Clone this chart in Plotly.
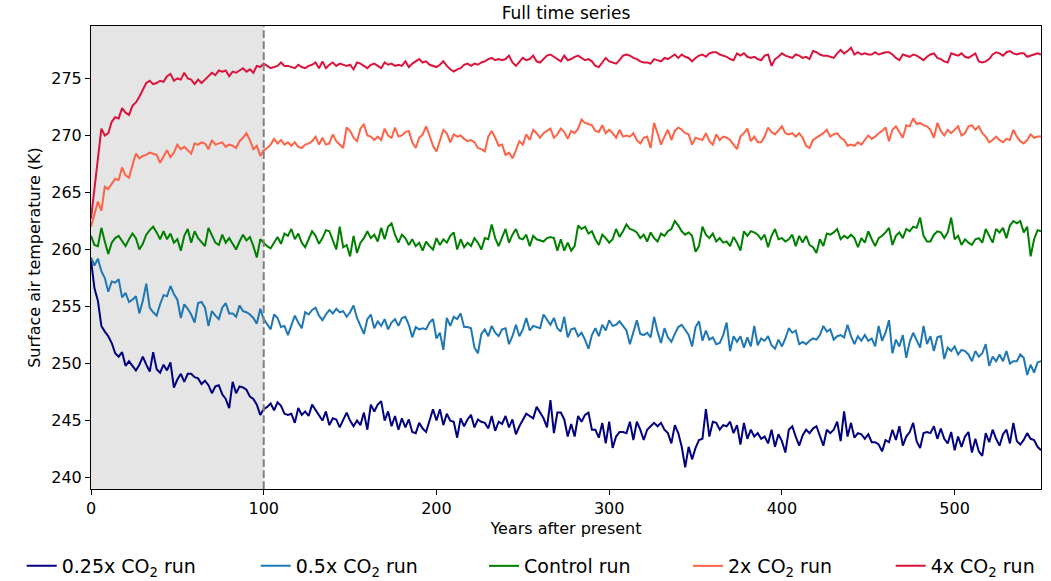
import plotly.graph_objects as go

# ---------------- data ----------------
years = list(range(0, 551, 2))

temp_025x = [
    259.1, 256.6, 255.5, 253.3, 252.8, 252.4, 251.8, 250.9, 250.6, 251.0,
    249.8, 250.2, 249.8, 249.4, 249.9, 250.6, 249.9, 249.3, 251.0, 249.5,
    249.2, 249.9, 249.4, 250.1, 247.9, 248.6, 249.1, 248.4, 249.1, 249.1,
    248.8, 248.7, 248.2, 248.5, 248.1, 247.4, 248.0, 248.1, 247.3, 246.9,
    246.1, 248.4, 247.4, 248.0, 247.9, 247.7, 247.1, 246.9, 246.4, 245.5,
    246.0, 246.2, 246.5, 245.9, 246.6, 246.3, 245.6, 245.5, 245.6, 244.8,
    246.1, 245.5, 245.8, 245.4, 246.4, 245.9, 245.4, 245.0, 245.8, 244.6,
    245.2, 245.1, 244.4, 245.0, 245.7, 245.0, 244.5, 245.0, 244.6, 245.7,
    244.2, 246.4, 245.8, 246.4, 246.7, 245.0, 245.8, 244.5, 245.4, 244.2,
    245.2, 244.4, 245.1, 244.0, 243.9, 244.8, 244.3, 244.0, 245.0, 246.0,
    245.0, 246.0, 244.6, 245.6, 245.0, 244.9, 243.5, 245.2, 244.5, 245.1,
    245.5, 244.4, 245.1, 244.9, 244.8, 244.3, 245.4, 244.1, 244.9, 244.7,
    245.4, 244.4, 245.1, 243.8, 244.5, 245.0, 245.6, 245.4, 245.2, 246.2,
    245.7, 245.2, 244.4, 246.8, 243.9, 245.7, 245.7, 245.1, 243.6, 244.7,
    243.6, 245.4, 244.9, 245.5, 245.7, 244.2, 244.2, 243.5, 244.8, 243.0,
    244.9, 242.6, 243.6, 244.0, 244.0, 243.9, 244.9, 243.3, 244.9, 244.2,
    243.3, 244.2, 244.5, 244.8, 244.5, 244.8, 244.2, 243.9, 243.0, 244.6,
    243.9, 242.7, 240.9, 242.7, 241.6, 242.6, 243.3, 243.4, 246.0, 243.6,
    244.9, 244.8, 244.2, 244.6, 244.5, 244.9, 243.9, 244.6, 242.9, 244.8,
    243.4, 244.2, 243.6, 243.9, 243.4, 243.6, 243.0, 244.2, 242.7, 243.8,
    243.2, 242.2, 244.2, 244.5, 243.6, 242.8, 243.7, 244.2, 243.9, 244.3,
    244.5, 243.7, 242.8, 244.2, 243.9, 244.2, 244.9, 243.2, 245.8, 243.6,
    244.8, 243.5, 243.9, 243.8, 243.4, 243.8, 243.1, 243.1, 242.9, 242.3,
    243.3, 243.1, 244.2, 243.3, 244.5, 242.8, 243.6, 244.0, 244.8, 243.2,
    242.6, 243.9, 244.0, 243.9, 244.5, 243.4, 244.3, 243.4, 243.0, 244.0,
    242.4, 243.6, 242.7, 243.6, 244.0, 242.2, 243.4, 242.3, 241.9, 243.9,
    243.1, 244.2, 243.4, 242.8, 243.8, 244.2, 243.0, 244.8, 243.2, 242.9,
    243.3, 243.9, 243.4, 243.3, 242.7, 242.4,
]

temp_05x = [
    259.3, 258.6, 259.2, 258.1, 257.5, 256.3, 257.2, 257.1, 257.4, 255.8,
    256.2, 255.4, 255.6, 255.9, 254.4, 255.5, 257.0, 254.9, 254.5, 254.2,
    255.2, 256.0, 255.9, 256.8, 256.1, 255.6, 254.0, 255.2, 254.8, 254.3,
    253.6, 255.3, 255.4, 254.9, 253.3, 254.6, 254.2, 253.9, 254.9, 255.3,
    254.4, 254.4, 254.1, 255.1, 254.6, 254.5, 254.3, 254.0, 253.5, 254.8,
    253.9, 253.5, 253.0, 254.3, 254.0, 253.2, 253.3, 252.5, 253.4, 254.2,
    253.6, 253.1, 254.5, 254.3, 254.7, 254.9, 254.2, 253.8, 254.3, 254.7,
    254.4, 254.8, 254.5, 254.6, 254.1, 254.5, 255.1, 254.0, 253.3, 252.6,
    253.9, 254.3, 253.1, 253.7, 253.3, 253.9, 253.0, 253.6, 253.9, 253.3,
    254.0, 254.1, 253.4, 252.3, 253.2, 253.0, 253.1, 253.0, 253.6, 253.9,
    252.2, 252.7, 251.2, 254.0, 253.3, 254.1, 253.9, 254.4, 253.2, 253.2,
    253.1, 251.4, 250.9, 252.6, 253.0, 252.4, 253.3, 252.7, 252.4, 253.0,
    253.1, 251.7, 252.4, 253.4, 252.4, 253.0, 254.0, 252.9, 253.3, 253.2,
    253.1, 254.3, 253.9, 253.4, 254.0, 253.1, 252.8, 254.1, 252.3, 253.0,
    253.1, 252.4, 252.7, 252.1, 251.3, 252.5, 253.1, 252.4, 253.4, 252.9,
    253.8, 253.3, 253.4, 253.7, 253.3, 252.9, 251.7, 252.8, 253.8, 252.6,
    252.5, 252.7, 252.3, 254.1, 252.8, 251.8, 253.1, 252.3, 251.9, 252.6,
    253.2, 253.4, 252.9, 252.5, 251.5, 253.2, 253.7, 252.0, 252.9, 252.1,
    252.3, 251.7, 251.8, 252.5, 253.6, 251.1, 252.4, 251.9, 252.4, 251.4,
    252.3, 251.5, 253.3, 251.6, 252.2, 252.0, 252.4, 251.6, 251.3, 252.1,
    251.5, 252.2, 253.1, 252.7, 252.9, 251.7, 251.9, 251.7, 252.0, 252.2,
    252.1, 252.5, 253.3, 252.8, 253.0, 252.1, 252.4, 252.5, 252.3, 253.4,
    252.4, 251.7, 252.4, 252.0, 252.5, 252.0, 252.2, 251.5, 253.3, 252.0,
    252.7, 253.8, 250.9, 252.1, 251.5, 252.5, 250.5, 251.9, 252.7, 252.1,
    251.4, 253.3, 251.7, 252.4, 251.1, 252.3, 252.4, 250.4, 251.4, 251.1,
    251.5, 250.8, 251.2, 251.1, 250.8, 250.2, 251.1, 250.6, 250.9, 251.7,
    249.8, 250.6, 250.2, 250.8, 250.2, 251.1, 250.0, 250.2, 250.2, 250.8,
    250.5, 249.0, 249.9, 249.2, 250.1, 250.2,
]

temp_control = [
    261.2, 260.4, 260.3, 261.9, 260.7, 259.6, 260.6, 261.0, 261.2, 260.8,
    260.3, 260.9, 261.4, 261.0, 260.0, 260.5, 261.3, 261.7, 262.0, 261.5,
    260.9, 261.6, 260.9, 261.4, 260.6, 260.9, 259.9, 261.2, 261.8, 260.6,
    261.6, 261.0, 260.6, 260.3, 261.9, 261.2, 260.6, 260.4, 261.3, 260.6,
    261.0, 260.5, 260.0, 260.7, 261.3, 260.8, 261.1, 260.3, 259.3, 260.9,
    260.6, 260.3, 260.1, 260.6, 261.1, 260.5, 261.4, 261.2, 261.8, 260.9,
    261.4, 260.6, 260.2, 260.9, 261.6, 261.2, 260.5, 261.0, 261.7, 261.6,
    260.8, 260.0, 262.0, 260.2, 260.4, 259.4, 261.2, 259.7, 260.6, 261.0,
    261.6, 261.0, 261.3, 260.7, 261.9, 260.9, 262.0, 262.3, 261.3, 260.6,
    261.3, 261.0, 260.4, 260.9, 260.3, 260.6, 259.9, 260.7, 260.3, 260.0,
    261.0, 260.4, 260.9, 260.6, 261.2, 261.5, 260.0, 260.9, 260.2, 260.6,
    260.3, 261.0, 260.6, 260.0, 261.0, 260.9, 262.2, 261.0, 260.3, 261.0,
    261.8, 260.6, 261.3, 261.8, 261.0, 260.9, 261.3, 260.3, 261.2, 260.9,
    260.8, 260.7, 261.0, 261.1, 261.0, 259.9, 260.9, 259.9, 260.6, 259.9,
    260.3, 262.1, 261.8, 262.0, 261.4, 261.6, 260.9, 260.4, 261.3, 261.0,
    260.6, 260.9, 261.8, 261.1, 261.6, 262.2, 261.8, 261.7, 261.5, 261.0,
    261.3, 260.7, 261.5, 261.0, 260.7, 261.4, 261.2, 261.6, 261.8, 262.5,
    262.1, 261.6, 261.3, 261.5, 261.2, 259.8, 260.3, 262.0, 261.3, 261.0,
    261.4, 260.7, 261.0, 260.6, 260.7, 260.3, 261.1, 260.6, 259.9, 261.6,
    261.2, 261.6, 261.5, 261.3, 260.9, 261.3, 260.2, 261.2, 261.8, 260.9,
    261.0, 260.7, 260.9, 261.3, 260.3, 261.2, 260.6, 261.2, 260.4, 260.2,
    259.7, 260.9, 260.3, 261.4, 261.3, 261.5, 261.8, 260.9, 261.2, 261.0,
    261.3, 261.0, 260.2, 261.0, 260.6, 261.6, 260.9, 260.3, 261.0, 261.2,
    261.5, 261.9, 260.4, 261.2, 261.5, 261.0, 261.8, 261.6, 262.0, 261.9,
    262.8, 261.2, 260.7, 260.7, 261.3, 261.6, 261.5, 261.0, 261.5, 262.8,
    260.9, 261.2, 260.4, 260.9, 260.6, 260.4, 260.9, 261.0, 260.6, 261.8,
    261.2, 260.6, 261.8, 261.5, 261.9, 261.0, 262.1, 262.5, 262.3, 262.5,
    261.5, 262.0, 259.4, 260.9, 261.7, 261.6,
]

temp_2x = [
    262.0, 263.1, 264.2, 263.4, 265.5, 265.3, 265.7, 266.2, 266.1, 267.2,
    266.5, 266.3, 267.4, 268.4, 268.0, 268.2, 268.3, 268.5, 268.4, 268.3,
    267.6, 268.1, 268.7, 268.1, 268.5, 269.2, 268.8, 269.0, 268.7, 268.4,
    269.3, 269.2, 269.4, 269.3, 268.8, 269.6, 269.2, 269.3, 269.4, 269.0,
    269.2, 269.1, 268.9, 269.5, 269.8, 270.2, 269.6, 268.8, 269.1, 268.2,
    268.7, 268.9, 269.2, 269.7, 269.3, 269.6, 269.2, 269.4, 269.1, 269.4,
    269.0, 268.9, 269.2, 269.3, 269.5, 269.9, 269.2, 269.8, 269.2, 269.3,
    270.1, 269.5, 269.2, 268.9, 270.7, 270.4, 269.8, 269.5, 270.6, 271.0,
    270.0, 269.9, 269.6, 269.9, 269.6, 270.6, 270.0, 269.8, 270.7, 269.9,
    270.0, 270.3, 270.4, 269.4, 268.9, 269.8, 270.1, 270.8, 270.0, 269.1,
    268.6, 269.6, 270.5, 270.2, 269.4, 270.1, 269.9, 270.0, 269.7, 269.5,
    269.6, 269.4, 268.9, 268.8, 268.6, 269.9, 270.4, 269.8, 269.1, 269.2,
    268.3, 268.5, 268.0, 268.7, 269.5, 269.2, 270.1, 269.6, 270.5, 270.2,
    269.8, 270.2, 270.4, 270.6, 269.8, 270.1, 270.6, 270.3, 269.7, 270.4,
    270.2, 270.6, 271.4, 271.1, 271.0, 270.9, 270.4, 270.3, 270.9, 270.2,
    270.5, 270.2, 269.8, 270.5, 269.9, 270.0, 269.9, 270.2, 269.6, 269.3,
    269.8, 269.9, 268.9, 271.1, 270.2, 269.2, 269.9, 270.5, 269.6, 270.4,
    270.7, 270.5, 270.2, 270.1, 269.2, 269.8, 269.7, 269.6, 270.2, 269.5,
    269.2, 270.1, 269.6, 269.9, 269.8, 269.6, 269.2, 268.8, 269.9, 270.2,
    270.6, 269.5, 269.9, 269.4, 269.4, 269.9, 270.7, 270.3, 270.1, 270.5,
    270.8, 270.2, 270.1, 270.2, 269.9, 270.2, 269.8, 269.1, 268.9, 269.6,
    269.8, 270.0, 270.2, 270.5, 269.9, 270.1, 270.2, 269.8, 269.6, 269.1,
    269.2, 269.1, 269.4, 269.2, 269.6, 270.0, 269.7, 269.9, 270.2, 270.4,
    270.7, 269.5, 270.5, 270.8, 270.3, 269.8, 270.9, 270.8, 271.5, 271.0,
    271.1, 270.9, 270.8, 270.5, 269.8, 271.1, 270.4, 270.0, 270.5, 270.2,
    270.5, 270.8, 270.0, 270.2, 270.8, 270.9, 270.5, 270.8, 270.2, 269.9,
    269.4, 269.6, 269.9, 269.6, 269.4, 269.7, 269.6, 270.5, 269.9, 269.5,
    269.3, 269.6, 270.1, 269.8, 269.9, 269.9,
]

temp_4x = [
    262.7, 265.2, 268.0, 270.6, 270.0, 270.2, 271.2, 271.6, 271.5, 272.4,
    272.0, 271.8, 272.6, 272.9, 273.4, 274.0, 274.6, 274.8, 274.5, 274.6,
    274.8, 274.7, 275.2, 275.4, 274.8, 275.0, 274.9, 275.5, 275.0, 274.9,
    274.5, 274.9, 274.6, 274.9, 275.2, 275.5, 275.3, 275.7, 275.6, 275.7,
    275.2, 275.6, 275.5, 275.7, 275.9, 275.6, 275.8, 275.5, 276.1, 276.0,
    276.3, 276.1, 275.9, 276.0, 276.1, 276.4, 276.1, 276.1, 276.0, 275.9,
    276.2, 276.0, 275.9, 276.1, 276.2, 276.4, 275.9, 276.5, 275.9, 276.2,
    276.4, 276.1, 276.3, 276.2, 276.1, 276.2, 275.8, 276.4, 276.3, 276.1,
    275.9, 276.2, 276.3, 276.1, 275.9, 276.4, 276.2, 276.3, 276.1, 276.2,
    276.1, 276.5, 276.0, 276.3, 276.5, 276.7, 276.4, 276.5, 276.2, 276.1,
    276.0, 276.2, 276.5, 276.1, 275.8, 275.6, 275.8, 275.9, 276.2, 276.3,
    276.1, 276.3, 276.2, 276.4, 276.5, 276.7, 276.8, 276.6, 276.7, 276.6,
    276.7, 277.0, 276.4, 276.1, 276.5, 276.8, 276.6, 276.7, 277.0, 276.5,
    276.4, 276.7, 277.0, 277.1, 276.9, 276.7, 276.5, 277.0, 276.6, 276.7,
    276.9, 277.0, 276.8, 276.6, 276.7, 276.5, 276.1, 276.0, 276.4, 276.8,
    276.5, 276.4, 276.3, 276.6, 277.0, 277.1, 277.0, 276.8, 276.7, 276.5,
    276.4, 276.4, 276.3, 276.7, 276.6, 276.5, 276.8, 276.7, 276.9, 277.1,
    276.8, 277.1, 276.9, 276.8, 276.5, 276.8, 277.0, 277.1, 276.9, 277.2,
    277.3, 277.3, 277.1, 277.0, 276.9, 276.7, 276.6, 277.2, 277.0, 277.2,
    276.9, 276.8, 276.9, 276.7, 276.6, 277.0, 277.1, 276.1, 276.7, 276.9,
    277.2, 277.0, 276.9, 276.8, 277.1, 277.0, 276.8, 276.9, 276.7, 277.4,
    277.3, 277.1, 277.0, 277.0, 276.9, 276.8, 277.2, 277.5, 277.2, 277.4,
    277.7, 277.1, 277.3, 277.1, 277.2, 277.1, 277.1, 277.3, 277.1, 277.2,
    277.3, 277.3, 277.1, 276.8, 276.6, 277.1, 277.0, 276.9, 277.1, 277.0,
    276.8, 276.6, 276.9, 277.1, 277.2, 276.8, 276.7, 276.5, 276.4, 277.2,
    277.1, 277.0, 277.2, 276.9, 276.8, 277.0, 277.2, 276.5, 276.4, 276.5,
    276.7, 277.1, 277.3, 277.2, 277.0, 277.3, 277.4, 277.2, 277.1, 277.2,
    277.2, 276.9, 277.0, 277.1, 277.2, 277.1,
]

series_names = [
    "0.25x CO<sub>2</sub> run",
    "0.5x CO<sub>2</sub> run",
    "Control run",
    "2x CO<sub>2</sub> run",
    "4x CO<sub>2</sub> run",
]
series_values = [temp_025x, temp_05x, temp_control, temp_2x, temp_4x]
series_colors = ["#000080", "#1f77b4", "#008000", "#ff6347", "#dc143c"]

x_ticks = [0, 100, 200, 300, 400, 500]
y_ticks = [240, 245, 250, 255, 260, 265, 270, 275]
spinup_end = 100

for v in series_values:
    assert len(v) == len(years), len(v)

# ---------------- figure ----------------
W, H = 1051, 581
FONT = "DejaVu Sans"
fig = go.Figure()

# legend text x-positions (px) in the reference
legend_text_px = [62.7, 296.7, 525, 729, 931.7]
legend_ids = ["legend", "legend2", "legend3", "legend4", "legend5"]

for name, vals, col, lid in zip(series_names, series_values, series_colors, legend_ids):
    fig.add_trace(go.Scatter(
        x=years, y=vals, mode="lines", name=name,
        line=dict(color=col, width=2), legend=lid,
    ))

legend_layout = {}
for lid, tx in zip(legend_ids, legend_text_px):
    legend_layout[lid] = dict(
        orientation="h", xref="container", yref="container",
        x=(tx - 41) / W, y=1 - 566 / H, xanchor="left", yanchor="middle",
        font=dict(family=FONT, size=19, color="black"),
        bgcolor="rgba(0,0,0,0)", borderwidth=0,
    )

fig.update_layout(
    width=W, height=H,
    margin=dict(l=91, r=10, t=26, b=92),
    paper_bgcolor="white", plot_bgcolor="white",
    font=dict(family=FONT, size=16, color="black"),
    title=dict(text="Full time series", x=0.5, xref="paper", xanchor="center",
               y=1 - 13 / H, yref="container", yanchor="middle",
               font=dict(family=FONT, size=17, color="black")),
    showlegend=True,
    **legend_layout,
    shapes=[
        dict(type="rect", xref="x", yref="paper", x0=0, x1=spinup_end, y0=0, y1=1,
             fillcolor="#e5e5e5", line=dict(width=0), layer="below"),
        dict(type="line", xref="x", yref="paper", x0=spinup_end, x1=spinup_end, y0=0, y1=1,
             line=dict(color="#808080", width=2, dash="7.7px,3.3px"), layer="above"),
    ],
)

fig.update_xaxes(
    range=[0, 550], tickvals=x_ticks, ticks="outside", ticklen=5, tickwidth=1,
    tickcolor="black", showline=True, linecolor="black", linewidth=1, mirror=True,
    showgrid=False, zeroline=False,
    tickfont=dict(family=FONT, size=16, color="black"),
    title=dict(text="Years after present", font=dict(family=FONT, size=16, color="black"), standoff=5),
)
fig.update_yaxes(
    range=[239.0, 279.6], tickvals=y_ticks, ticks="outside", ticklen=5, tickwidth=1,
    tickcolor="black", showline=True, linecolor="black", linewidth=1, mirror=True,
    showgrid=False, zeroline=False,
    tickfont=dict(family=FONT, size=16, color="black"),
    title=dict(text="Surface air temperature (K)", font=dict(family=FONT, size=16, color="black"), standoff=6),
)

fig.write_html("out.html")
